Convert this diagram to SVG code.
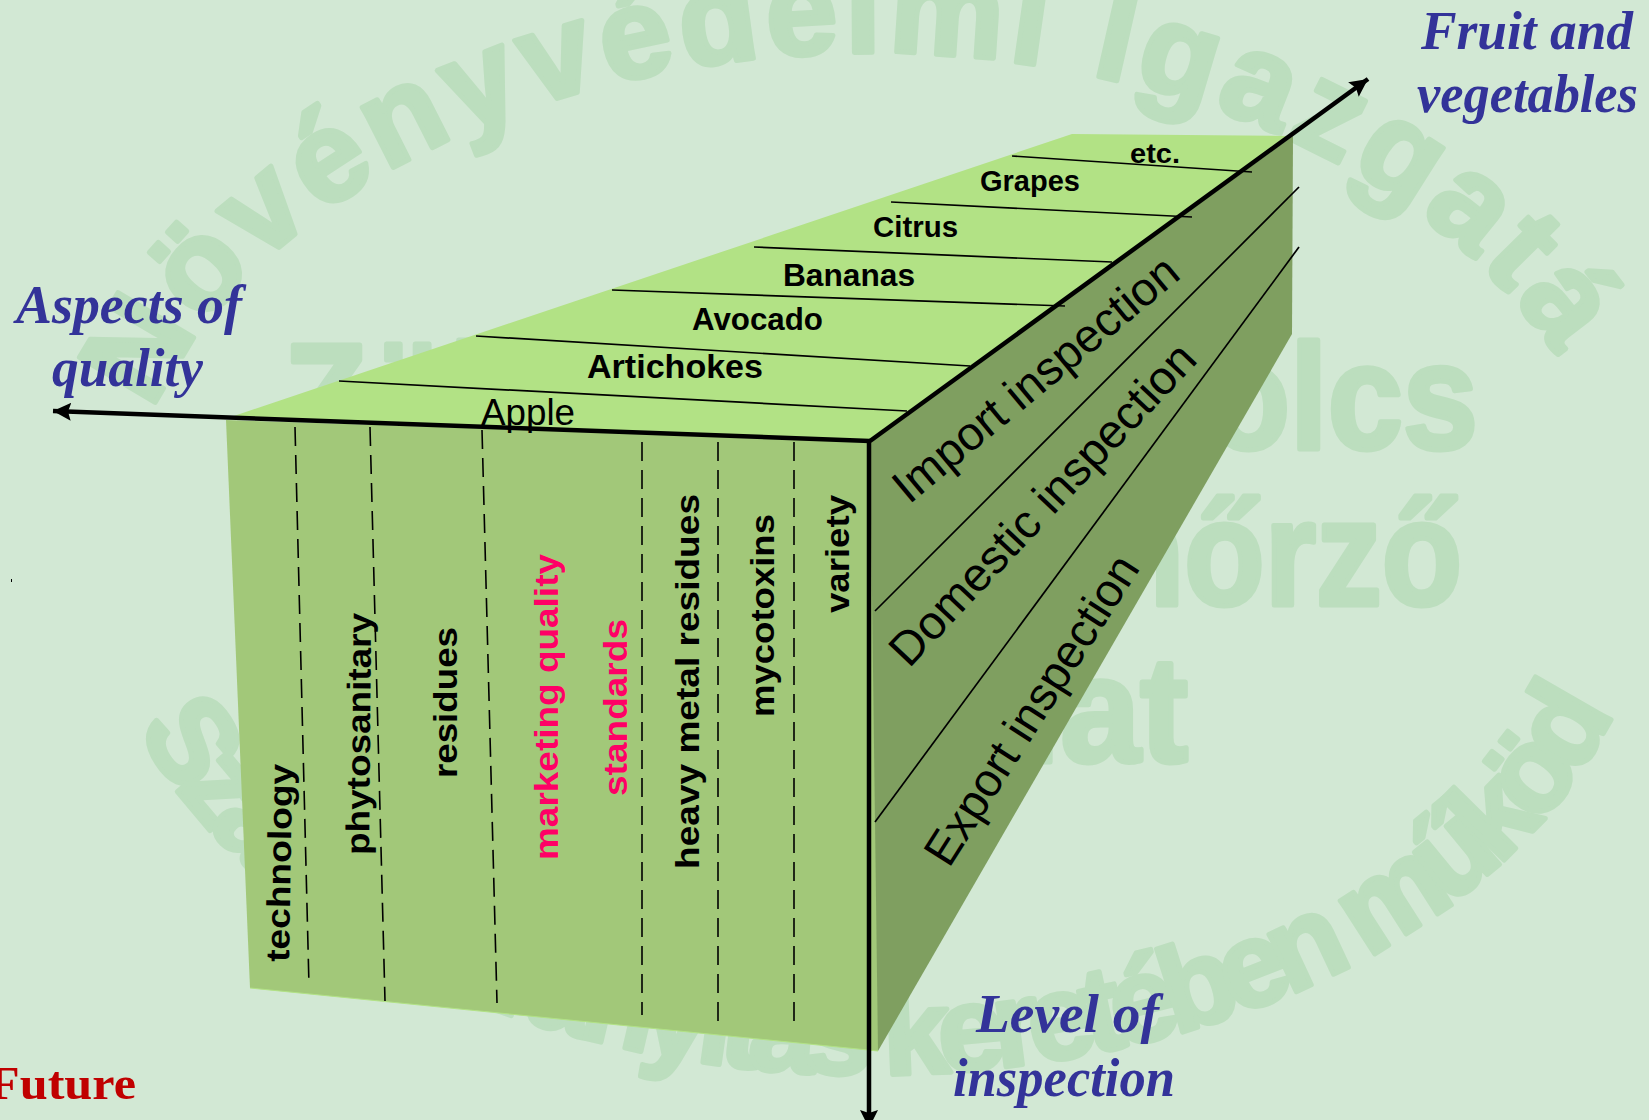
<svg xmlns="http://www.w3.org/2000/svg" width="1649" height="1120" viewBox="0 0 1649 1120">
<style>
.wm{font-family:"Liberation Sans Narrow","Liberation Sans",sans-serif;font-weight:700;fill:#bcdebe;stroke:#bcdebe;stroke-width:5;stroke-linejoin:round}
.b{font-family:"Liberation Sans",Arial,sans-serif;font-weight:700;fill:#000}
.r{font-family:"Liberation Sans",Arial,sans-serif;fill:#000}
.t{font-family:"Liberation Serif","Times New Roman",serif;font-weight:700;font-style:italic;fill:#333399;font-size:54px}
.pk{fill:#ff0066}
.sol{stroke:#000;stroke-width:1.7;fill:none}
.das{stroke:#000;stroke-width:1.6;fill:none;stroke-dasharray:19 9}
.ax{stroke:#000;stroke-width:4.5;fill:none}
</style>
<defs>
<path id="arcTop" d="M153,411 A750,508 0 0 1 1564,368"/>
<path id="arcBot" d="M138,728 A775,510 0 0 0 1606,728"/>
<marker id="head" markerUnits="userSpaceOnUse" markerWidth="24" markerHeight="24" refX="18" refY="9" orient="auto">
<path d="M0,0 L18,9 L0,18 L3,9 Z" fill="#000"/>
</marker>
</defs>
<rect width="1649" height="1120" fill="#d2e8d4"/>
<g id="watermark">
<text class="wm" font-size="128"><textPath href="#arcTop" textLength="1700" lengthAdjust="spacing">Növényvédelmi Igazgatás</textPath></text>
<text class="wm" font-size="120"><textPath href="#arcBot" textLength="1780" lengthAdjust="spacing">Szakmai irányítás keretében működő</textPath></text>
<text class="wm" font-size="150" x="284" y="449" textLength="1194" lengthAdjust="spacingAndGlyphs">Zöldség-gyümölcs</text>
<text class="wm" font-size="150" x="300" y="605" textLength="1162" lengthAdjust="spacingAndGlyphs">minőség-ellenőrző</text>
<text class="wm" font-size="150" x="574" y="762" textLength="614" lengthAdjust="spacingAndGlyphs">szolgálat</text>
</g>
<rect id="speck" x="11" y="579" width="1" height="3" fill="#000"/>
<g id="block">
<polygon id="top-face" points="231,417 1072,134 1293,136 870,441" fill="#b2e285"/>
<polygon id="right-face" points="870,441 1293,136 1292,334 878,1051 870,1051" fill="#7f9f60"/>
<polygon id="front-face" points="226,420 870,441 878,1051 250,988" fill="#a2c879"/>
<line x1="250" y1="988" x2="878" y2="1051" stroke="#b2e285" stroke-width="1"/>
</g>
<g id="connectors">
<g id="rows">
<line class="sol" x1="1012" y1="156" x2="1252" y2="172"/>
<line class="sol" x1="891" y1="202" x2="1192" y2="217"/>
<line class="sol" x1="754" y1="247" x2="1112" y2="262"/>
<line class="sol" x1="612" y1="290" x2="1065" y2="306"/>
<line class="sol" x1="476" y1="336" x2="970" y2="366"/>
<line class="sol" x1="339" y1="381" x2="907" y2="411"/>
</g>
<g id="columns">
<line class="das" x1="295" y1="427" x2="309" y2="986"/>
<line class="das" x1="370" y1="427" x2="385" y2="1001"/>
<line class="das" x1="482" y1="430" x2="497" y2="1003"/>
<line class="das" x1="642" y1="442" x2="642" y2="1015"/>
<line class="das" x1="718" y1="442" x2="718" y2="1030"/>
<line class="das" x1="794" y1="442" x2="794" y2="1030"/>
</g>
<g id="levels">
<line class="sol" x1="1299" y1="187" x2="875" y2="611"/>
<line class="sol" x1="1299" y1="247" x2="875" y2="822"/>
</g>
<g id="axes">
<line class="ax" x1="870" y1="441" x2="53" y2="411" marker-end="url(#head)"/>
<line class="ax" x1="869" y1="441" x2="869" y2="1128" marker-end="url(#head)"/>
<line class="ax" x1="870" y1="441" x2="1368" y2="79" marker-end="url(#head)"/>
</g>
</g>
<g id="products">
<text class="b" font-size="28" x="1130" y="163" textLength="50" lengthAdjust="spacingAndGlyphs">etc.</text>
<text class="b" font-size="29" x="980" y="191" textLength="100" lengthAdjust="spacingAndGlyphs">Grapes</text>
<text class="b" font-size="29" x="873" y="237" textLength="85" lengthAdjust="spacingAndGlyphs">Citrus</text>
<text class="b" font-size="31" x="783" y="286" textLength="132" lengthAdjust="spacingAndGlyphs">Bananas</text>
<text class="b" font-size="31" x="692" y="330" textLength="131" lengthAdjust="spacingAndGlyphs">Avocado</text>
<text class="b" font-size="33" x="587" y="378" textLength="176" lengthAdjust="spacingAndGlyphs">Artichokes</text>
<text class="r" font-size="36" x="481" y="425" textLength="94" lengthAdjust="spacingAndGlyphs">Apple</text>
</g>
<g id="aspects">
<text class="b" font-size="33" transform="translate(289,962) rotate(-89)" textLength="198" lengthAdjust="spacingAndGlyphs">technology</text>
<text class="b" font-size="33" transform="translate(369,855) rotate(-89.5)" textLength="242" lengthAdjust="spacingAndGlyphs">phytosanitary</text>
<text class="b" font-size="33" transform="translate(457,778) rotate(-90)" textLength="151" lengthAdjust="spacingAndGlyphs">residues</text>
<text class="b pk" font-size="33" transform="translate(558,860) rotate(-90)" textLength="306" lengthAdjust="spacingAndGlyphs">marketing quality</text>
<text class="b pk" font-size="33" transform="translate(627,796) rotate(-90)" textLength="177" lengthAdjust="spacingAndGlyphs">standards</text>
<text class="b" font-size="33" transform="translate(699,869) rotate(-90)" textLength="375" lengthAdjust="spacingAndGlyphs">heavy metal residues</text>
<text class="b" font-size="33" transform="translate(774,717) rotate(-90)" textLength="203" lengthAdjust="spacingAndGlyphs">mycotoxins</text>
<text class="b" font-size="33" transform="translate(849,613) rotate(-90)" textLength="118" lengthAdjust="spacingAndGlyphs">variety</text>
</g>
<g id="levels-text">
<text class="r" font-size="47" transform="translate(909,505) rotate(-39.8)" textLength="356" lengthAdjust="spacingAndGlyphs">Import inspection</text>
<text class="r" font-size="47" transform="translate(909,669) rotate(-46.7)" textLength="423" lengthAdjust="spacingAndGlyphs">Domestic inspection</text>
<text class="r" font-size="47" transform="translate(949,869) rotate(-57.5)" textLength="357" lengthAdjust="spacingAndGlyphs">Export inspection</text>
</g>
<g id="axis-titles">
<text class="t" x="16" y="323" textLength="226" lengthAdjust="spacingAndGlyphs">Aspects of</text>
<text class="t" x="52" y="386" textLength="151" lengthAdjust="spacingAndGlyphs">quality</text>
<text class="t" x="1421" y="49" textLength="212" lengthAdjust="spacingAndGlyphs">Fruit and</text>
<text class="t" x="1417" y="112" textLength="221" lengthAdjust="spacingAndGlyphs">vegetables</text>
<text class="t" x="976" y="1032" textLength="183" lengthAdjust="spacingAndGlyphs">Level of</text>
<text class="t" x="953" y="1096" textLength="222" lengthAdjust="spacingAndGlyphs">inspection</text>
</g>
<text id="future" x="-11" y="1099" font-family="'Liberation Serif','Times New Roman',serif" font-weight="700" font-size="46" fill="#c00000" textLength="147" lengthAdjust="spacingAndGlyphs">Future</text>
</svg>
